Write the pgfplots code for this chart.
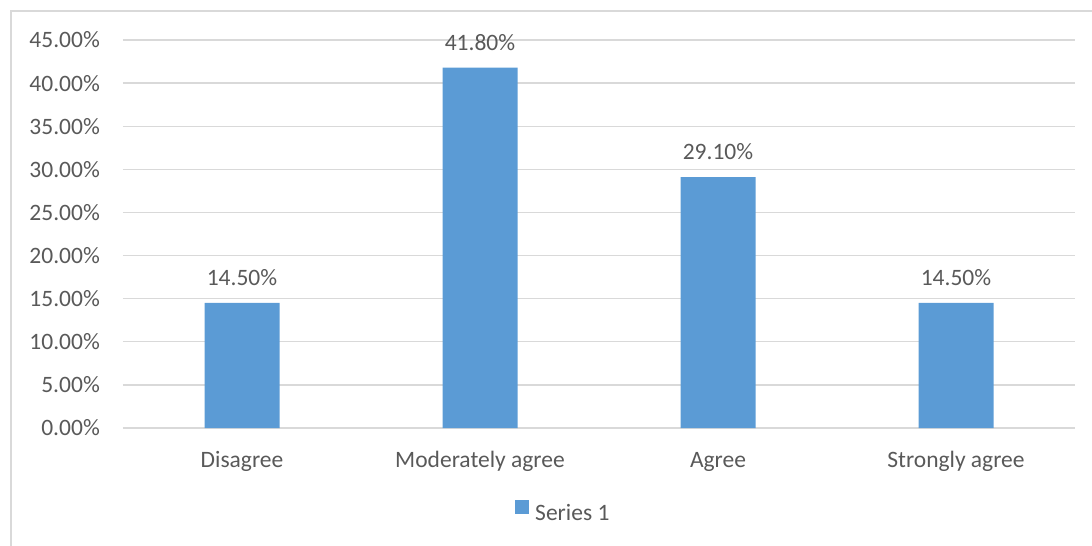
\documentclass[border=0pt]{standalone}
\usepackage{fontspec}
\setmainfont{Carlito}
\usepackage{pgfplots}
\pgfplotsset{compat=1.18}
\definecolor{barblue}{HTML}{5B9BD5}
\definecolor{txtgray}{HTML}{595959}
\definecolor{gridgray}{HTML}{D9D9D9}

\begin{document}
\begin{tikzpicture}
\useasboundingbox (-123pt,-118pt) rectangle (969pt,428pt);
% chart area frame
\draw[gridgray, line width=1.5pt] (-112pt,-118pt) -- (-112pt,417pt) -- (969pt,417pt);
\begin{axis}[
  at={(0pt,0pt)}, anchor=south west,
  scale only axis, width=952pt, height=388pt,
  xmin=-0.5, xmax=3.5, ymin=0, ymax=45,
  font=\fontsize{23.5}{28}\selectfont,
  axis line style={draw=none},
  tick style={draw=none},
  ymajorgrids, major grid style={gridgray, line width=1.4pt},
  xtick={0,1,2,3},
  xticklabels={Disagree, Moderately agree, Agree, Strongly agree},
  ytick={0,5,...,45},
  yticklabel={\pgfmathprintnumber[fixed,fixed zerofill,precision=2]{\tick}\%},
  /pgf/number format/assume math mode=true,
  ticklabel style={text=txtgray},
  yticklabel style={anchor=east, inner sep=0pt, xshift=-23pt},
  xticklabel style={anchor=base, inner sep=0pt, yshift=-35.5pt},
  ybar, bar width=75pt,
  point meta=y,
  nodes near coords={\pgfmathprintnumber[fixed,fixed zerofill,precision=2]{\pgfplotspointmeta}\%},
  every node near coord/.append style={anchor=south, inner sep=0pt, yshift=17pt, text=txtgray},
  legend image code/.code={\fill[#1] (0pt,0pt) rectangle (14pt,14pt);},
  legend style={draw=none, fill=none, at={(0.4118,-0.214)}, anchor=west,
    inner sep=0pt, column sep=6pt, nodes={inner sep=0pt, text=txtgray}},
]
\addplot[fill=barblue, draw=none] coordinates {(0,14.5) (1,41.8) (2,29.1) (3,14.5)};
\addlegendentry{Series 1}
\end{axis}
\end{tikzpicture}
\end{document}
